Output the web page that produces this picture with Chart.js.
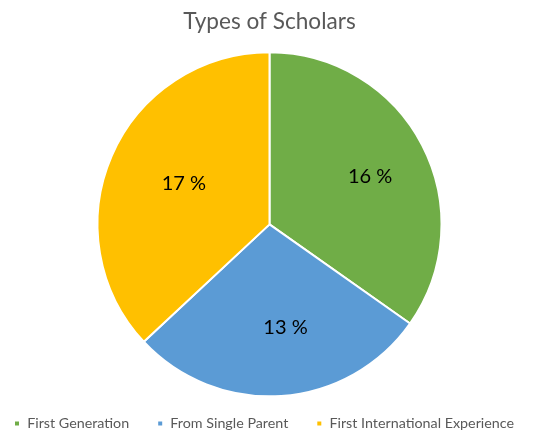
<!DOCTYPE html>
<html>
<head>
<meta charset="utf-8">
<script src="https://cdn.jsdelivr.net/npm/chart.js@4"></script>
<style>
	html, body { margin: 0; padding: 0; background: #fff; }
	#wrap { width: 539px; height: 436px; }
</style>
</head>
<body>
<div id="wrap"><canvas id="scholars-chart"></canvas></div>
<script>
	var categories = ['First Generation', 'From Single Parent', 'First International Experience'];
	var scholarCounts = [16, 13, 17];
	var sliceColours = ['#70AD47', '#5B9BD5', '#FFC000'];

	// writes "16 %" etc inside each slice
	var sliceLabels = {
		id: 'sliceLabels',
		afterDatasetsDraw: function(chart) {
			var ctx = chart.ctx;
			var meta = chart.getDatasetMeta(0);
			ctx.save();
			ctx.font = '20px Lato';
			ctx.fillStyle = '#000';
			ctx.textAlign = 'center';
			ctx.textBaseline = 'middle';
			meta.data.forEach(function(arc, i) {
				var mid = (arc.startAngle + arc.endAngle) / 2;
				var r = arc.outerRadius * 0.6;
				// excel nudges its labels a little to the right
				ctx.fillText(scholarCounts[i] + ' %', arc.x + Math.cos(mid) * r + 9, arc.y + Math.sin(mid) * r);
			});
			ctx.restore();
		}
	};

	const chartElem = document.getElementById('scholars-chart');

	new Chart(chartElem, {
		type: 'pie',
		data: {
			labels: categories,
			datasets: [{
				data: scholarCounts,
				backgroundColor: sliceColours,
				borderColor: '#fff',
				borderWidth: 2,
				radius: 172
			}]
		},
		options: {
			responsive: true,
			maintainAspectRatio: false,
			animation: false,
			layout: {
				// let the legend row use a bit more than the canvas width so it stays on one line
				padding: { left: -14, right: -14 }
			},
			plugins: {
				title: {
					display: true,
					text: 'Types of Scholars',
					color: '#595959',
					font: { family: 'Lato', size: 22.6, weight: 'normal' },
					padding: { top: 8, bottom: 25.2 }
				},
				legend: {
					position: 'bottom',
					align: 'start',
					maxHeight: 47.6,
					labels: {
						color: '#595959',
						font: { family: 'Lato', size: 14.3 },
						boxWidth: 6,
						boxHeight: 6,
						padding: 28
					}
				},
				tooltip: { enabled: false }
			}
		},
		plugins: [sliceLabels]
	});
</script>
</body>
</html>
